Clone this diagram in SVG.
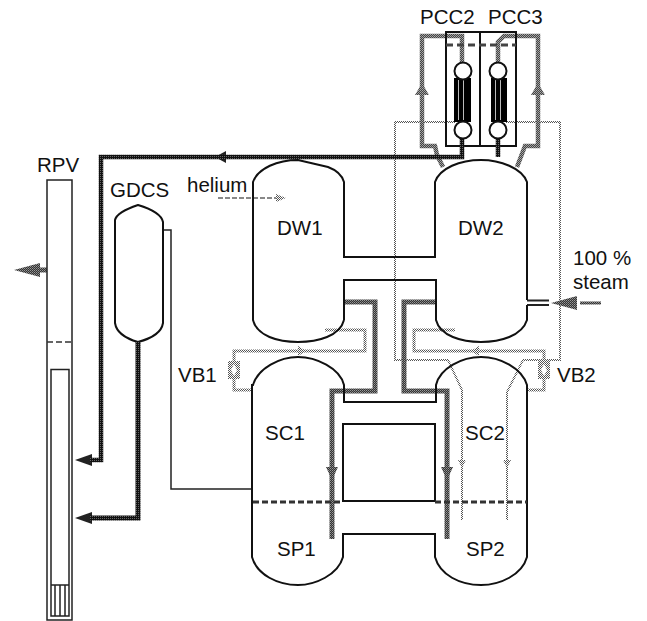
<svg xmlns="http://www.w3.org/2000/svg" width="647" height="621" viewBox="0 0 647 621">
<defs>
<pattern id="pd" width="2" height="2" patternUnits="userSpaceOnUse"><rect width="2" height="2" fill="#111"/><rect width="1" height="1" fill="#666"/></pattern>
<pattern id="pl" width="2" height="2" patternUnits="userSpaceOnUse"><rect width="2" height="2" fill="#333"/><rect width="1" height="1" fill="#999"/><rect x="1" y="1" width="1" height="1" fill="#777"/></pattern>
<pattern id="pg" width="2" height="2" patternUnits="userSpaceOnUse"><rect width="2" height="2" fill="#444"/><rect width="1" height="1" fill="#aaa"/><rect x="1" y="1" width="1" height="1" fill="#999"/></pattern>
<pattern id="pm" width="2" height="2" patternUnits="userSpaceOnUse"><rect width="2" height="2" fill="#fff"/><rect width="1" height="1" fill="#555"/><rect x="1" y="1" width="1" height="1" fill="#555"/></pattern>
</defs>
<style>
text{font-family:"Liberation Sans",Arial,sans-serif;font-size:20.5px;fill:#111}
.w{fill:none;stroke:#111;stroke-width:2}
.t{fill:none;stroke:#222;stroke-width:1.5}
.d{fill:none;stroke:url(#pd);stroke-width:5}
.l{fill:none;stroke:url(#pl);stroke-width:5}
.g{fill:none;stroke:url(#pg);stroke-width:4.5}
.m{fill:none;stroke:url(#pm);stroke-width:3}
.o{fill:none;stroke:url(#pm);stroke-width:2}
.da{fill:url(#pd)}.la{fill:url(#pl)}.ga{fill:url(#pg)}.ma{fill:url(#pm)}
</style>
<rect width="647" height="621" fill="#fff"/>
<g id="connectors">
<path class="t" d="M163 230H171V489H253"/>
<path class="o" d="M462 520V390L448 360H395V122H456M505 122H560V360H523L507 392V520"/>
<path class="m" d="M253 390H234V351H365V330H325"/>
<path class="m" d="M527 390H544V351H414V330H455"/>
<path class="g" d="M443 167L437 155L435 146H422V36H462V63"/>
<path class="g" d="M517 167L525 146H538V36H504L498 42V63"/>
<path class="l" d="M447 539V391H404V302H436"/>
<path class="l" d="M332 539V391H375V302H344"/>
<path class="l" d="M47 270H38"/>
<path class="l" d="M580 303H601" style="stroke-width:3"/>
<path d="M218 198H282" fill="none" stroke="#888" stroke-width="2" stroke-dasharray="5 2"/>
<path class="la" d="M75 460L92 454V466Z" style="fill:#222"/>
<path class="la" d="M75 518L92 512V524Z" style="fill:#222"/>
<path class="la" d="M215 157L226 151V163Z" style="fill:#222"/>
<path class="la" d="M14 270L40 263V277Z"/>
<path class="la" d="M551 303L577 296V310Z"/>
<path class="ga" d="M422 83L415 95H429Z"/>
<path class="ga" d="M538 83L531 95H545Z"/>
<path class="la" d="M332 480L326 467H338Z"/>
<path class="la" d="M447 480L441 467H453Z"/>
<path class="ma" d="M462 468L458 460H466Z"/>
<path class="ma" d="M507 468L503 460H511Z"/>
<path class="ma" d="M306 351L298 346V356Z"/>
<path class="ma" d="M471 351L479 346V356Z"/>
<path class="ma" d="M286 198L276 194V202Z"/>
<path class="t" d="M527 300.500H549M527 305H549" style="stroke-width:2"/>
</g>
<g id="rpv">
<path class="t" d="M47 180H72V620H47Z"/>
<path d="M47 342H72" fill="none" stroke="#333" stroke-width="1.5" stroke-dasharray="6 3"/>
<path class="t" d="M51 369.500H69V616H51ZM51 585H69M55 585V616M60 585V616M65 585V616"/>
<text x="37" y="172">RPV</text>
</g>
<g id="gdcs">
<path class="w" d="M115 220Q117 212 138 205Q161 212 163 222V323Q161 336 138 342Q117 336 115 323Z"/>
<text x="110" y="197">GDCS</text>
</g>
<g id="dw1-dw2">
<path class="w" d="M344 320C340 336 318 342 298 342C278 342 257 336 253 320V182C258 168 278 160 298 160L328 167C336 170 342 175 344 182V257H435V182C440 168 460 160 481 160C500 160 522 168 527 182V300M527 305V320C522 336 500 342 481 342C462 342 440 336 436 320V280H344V320"/>
<text x="277" y="235">DW1</text>
<text x="458" y="235">DW2</text>
</g>
<g id="sc-sp">
<path class="w" d="M253 385C258 368 280 357 298 357C316 357 340 368 344 385V402H436V385C440 368 462 357 481 357C500 357 522 368 527 385V557C522 575 500 585 481 585C460 585 440 575 435 557V534H343V557C338 575 315 585 298 585C278 585 257 575 252 557V385Z"/>
<path class="w" d="M343 424H435V501H343Z"/>
<path d="M253 502H343M435 502H527" fill="none" stroke="#333" stroke-width="3" stroke-dasharray="6 3"/>
<text x="265" y="440">SC1</text>
<text x="465" y="440">SC2</text>
<text x="277" y="556">SP1</text>
<text x="466" y="556">SP2</text>
</g>
<g id="pcc">
<path class="w" d="M446 32H516V146H446ZM480 32V146"/>
<path d="M446 45H516" fill="none" stroke="#444" stroke-width="3" stroke-dasharray="7 4"/>
<path class="d" d="M462 138V157H101V460H90M498 138V157" style="stroke-width:4.500"/>
<path class="d" d="M138 342V518H90"/>
<path fill="#000" d="M454 78H471V122H454ZM491 78H507V122H491Z"/>
<path d="M458.500 80V120M463.500 80V120M495.500 80V120M500.500 80V120" stroke="#bbb" stroke-width="1"/>
<g fill="#fff" stroke="#111" stroke-width="2"><circle cx="463" cy="71" r="8.500"/><circle cx="463" cy="130" r="8.500"/><circle cx="498" cy="71" r="8.500"/><circle cx="498" cy="130" r="8.500"/></g>
<text x="420" y="24">PCC2</text>
<text x="488" y="24">PCC3</text>
</g>
<g id="vb1"><path class="ma" d="M228 361H240V379H228Z"/><path fill="#fff" d="M234 364L237 370L234 376L231 370Z"/><text x="178" y="382">VB1</text></g>
<g id="vb2"><path class="ma" d="M538 361H550V379H538Z"/><path fill="#fff" d="M544 364L547 370L544 376L541 370Z"/><text x="557" y="382">VB2</text></g>
<g id="labels">
<text x="187" y="192">helium</text>
<text x="573" y="265">100 %</text>
<text x="573" y="289">steam</text>
</g>
</svg>
